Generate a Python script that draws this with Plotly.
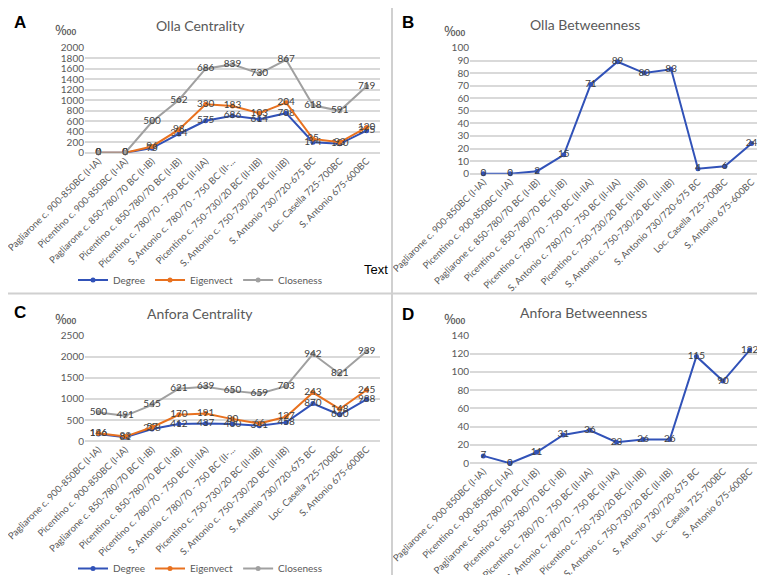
import plotly.graph_objects as go

categories = [
    "Pagliarone c. 900-850BC (I-IA)",
    "Picentino c. 900-850BC (I-IA)",
    "Pagliarone c. 850-780/70 BC (I-IB)",
    "Picentino c. 850-780/70 BC (I-IB)",
    "Picentino c. 780/70 - 750 BC (II-IIA)",
    "S. Antonio c. 780/70 - 750 BC (II-IIA)",
    "Picentino c. 750-730/20 BC (II-IIB)",
    "S. Antonio c. 750-730/20 BC (II-IIB)",
    "S. Antonio 730/720-675 BC",
    "Loc. Casella 725-700BC",
    "S. Antonio 675-600BC",
]
categories_short = categories[:5] + ["S. Antonio c. 780/70 - 750 BC (II-..."] + categories[6:]

# Olla centrality
olla_degree = [0, 0, 88, 358, 610, 704, 641, 755, 200, 170, 421]
olla_degree_lbl = ["0", "0", "95", "314", "575", "686", "614", "708", "174", "120", "375"]
olla_eigen = [0, 0, 120, 440, 925, 893, 755, 956, 264, 200, 484]
olla_eigen_lbl = ["0", "0", "96", "98", "330", "183", "103", "204", "35", "93", "120"]
olla_close = [0, 0, 590, 1006, 1604, 1686, 1510, 1774, 906, 800, 1270]
olla_close_lbl = ["0", "0", "500", "562", "686", "839", "730", "867", "618", "591", "719"]

# Olla betweenness
olla_betw = [0, 0, 2, 15, 71, 89, 80, 83, 4, 6, 24]
olla_betw_lbl = ["0", "0", "2", "15", "71", "89", "80", "83", "4", "6", "24"]

# Anfora centrality
anf_degree = [172, 94, 290, 406, 422, 406, 367, 445, 890, 625, 990]
anf_degree_lbl = ["186", "81", "258", "412", "437", "400", "341", "458", "870", "660", "988"]
anf_eigen = [190, 110, 330, 625, 656, 523, 420, 578, 1150, 760, 1210]
anf_eigen_lbl = ["146", "83", "57", "170", "191", "80", "66", "127", "243", "148", "245"]
anf_close = [680, 600, 860, 1240, 1290, 1190, 1125, 1300, 2060, 1590, 2125]
anf_close_lbl = ["500", "491", "545", "621", "639", "650", "659", "703", "942", "821", "939"]

# Anfora betweenness
anf_betw = [8, 0, 12, 31, 36, 23, 26, 26, 117, 90, 124]
anf_betw_lbl = ["7", "0", "11", "31", "36", "23", "26", "26", "115", "90", "122"]

BLUE = "#3152B8"
ORANGE = "#E8711F"
GRAY = "#A0A0A0"
FONT = "Lato"
TICKC = "#595959"

W, H = 765, 575
def px(x):
    return x / W
def py(y):
    return 1 - y / H

fig = go.Figure()
xs = list(range(len(categories)))

def add(vals, lbls, color, name, xa, ya, legend=None, show=False):
    fig.add_trace(go.Scatter(
        x=xs, y=vals, text=lbls, mode="lines+markers+text", name=name,
        line=dict(color=color, width=2), marker=dict(color=color, size=5),
        textposition="middle center", textfont=dict(size=10, color="#404040", family=FONT),
        xaxis=xa, yaxis=ya, showlegend=show, legend=legend, cliponaxis=False,
    ))

add(olla_degree, olla_degree_lbl, BLUE, "Degree", "x", "y", "legend", True)
add(olla_eigen, olla_eigen_lbl, ORANGE, "Eigenvect", "x", "y", "legend", True)
add(olla_close, olla_close_lbl, GRAY, "Closeness", "x", "y", "legend", True)
add(olla_betw, olla_betw_lbl, BLUE, "Betweenness", "x2", "y2")
add(anf_degree, anf_degree_lbl, BLUE, "Degree", "x3", "y3", "legend2", True)
add(anf_eigen, anf_eigen_lbl, ORANGE, "Eigenvect", "x3", "y3", "legend2", True)
add(anf_close, anf_close_lbl, GRAY, "Closeness", "x3", "y3", "legend2", True)
add(anf_betw, anf_betw_lbl, BLUE, "Betweenness", "x4", "y4")

domains = {
    "": ([px(77), px(372)], [py(145), py(40)], [0, 2000], 200, categories_short),
    "2": ([px(462), px(757)], [py(166), py(40)], [0, 100], 10, categories),
    "3": ([px(77), px(372)], [py(434), py(328)], [0, 2500], 500, categories_short),
    "4": ([px(462), px(755)], [py(456), py(328)], [0, 140], 20, categories),
}
for k, (dx, dy, yr, dt, ticks) in domains.items():
    fig.update_layout(**{
        "xaxis" + k: dict(
            domain=dx, anchor="y" + k, range=[-0.5, 10.5], tickmode="array",
            tickvals=xs, ticktext=ticks, tickangle=-45, showgrid=False,
            showline=False, zeroline=False, ticks="", automargin=False,
            ticklabeloverflow="allow",
            tickfont=dict(size=9.5, color=TICKC, family=FONT),
        ),
        "yaxis" + k: dict(
            domain=dy, anchor="x" + k, range=yr, dtick=dt, showgrid=True,
            gridcolor="#D9D9D9", gridwidth=1.5, zeroline=True, zerolinecolor="#D9D9D9",
            zerolinewidth=1.5, showline=False, ticks="", automargin=False,
            tickfont=dict(size=10, color=TICKC, family=FONT),
        ),
    })

ann = []
def note(x, y, text, size, color, family):
    ann.append(dict(x=px(x), y=py(y), xref="paper", yref="paper", text=text, showarrow=False,
                    xanchor="center", yanchor="middle", font=dict(size=size, color=color, family=family)))

for lx, ly, t in [(12, 15, "A"), (400, 15, "B"), (12, 305, "C"), (400, 307, "D")]:
    note(lx, ly, "<b>%s</b>" % t, 17, "black", "Arial")
for tx, ty, t in [(192, 18, "Olla Centrality"), (577, 17, "Olla Betweenness"),
                  (192, 306, "Anfora Centrality"), (575, 305, "Anfora Betweenness")]:
    note(tx, ty, t, 14, TICKC, FONT)
for ux, uy in [(58, 22), (447, 23), (58, 311), (447, 311)]:
    note(ux, uy, "\u2031", 14, TICKC, FONT)
note(368, 262, "Text", 13, "black", "Arial")

shapes = [
    dict(type="line", xref="paper", yref="paper", x0=px(384), x1=px(384), y0=0, y1=1,
         line=dict(color="#D0D0D0", width=2)),
    dict(type="line", xref="paper", yref="paper", x0=0, x1=1, y0=py(286), y1=py(286),
         line=dict(color="#D0D0D0", width=2)),
]

leg = dict(orientation="h", xanchor="center", yanchor="middle",
           font=dict(size=10, color=TICKC, family=FONT), bgcolor="rgba(0,0,0,0)",
           itemwidth=30, tracegroupgap=0)
fig.update_layout(
    width=W, height=H, margin=dict(l=0, r=0, t=0, b=0),
    paper_bgcolor="white", plot_bgcolor="white",
    annotations=ann, shapes=shapes,
    legend=dict(leg, x=px(192), y=py(272)),
    legend2=dict(leg, x=px(192), y=py(561)),
)

fig.write_html("out.html")
